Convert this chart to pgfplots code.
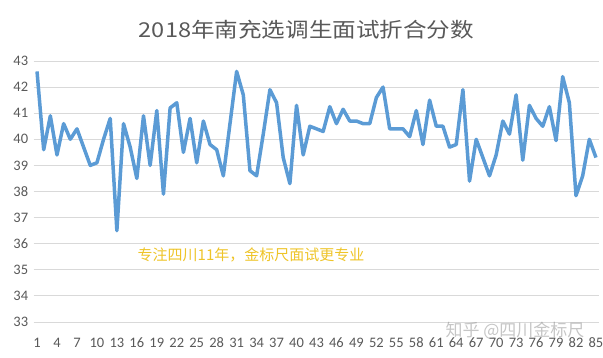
\documentclass[border=0pt]{standalone}
\usepackage{pgfplots}
\pgfplotsset{compat=1.18}
\usepackage{graphicx}
\usepackage{fontspec}
\setmainfont{Carlito}
\newfontfamily\cjk{Noto Sans CJK SC}
\definecolor{linec}{RGB}{91,155,213}
\definecolor{gridc}{RGB}{217,217,217}
\definecolor{txtc}{RGB}{89,89,89}
\definecolor{gold}{RGB}{238,196,40}
\begin{document}
\begin{tikzpicture}[x=1pt,y=1pt]
\begin{axis}[
  at={(33.7pt,36pt)}, anchor=south west,
  scale only axis, width=565.6pt, height=261pt,
  xmin=0.5, xmax=85.5, ymin=33, ymax=43,
  xtick={1,4,...,85}, ytick={33,34,...,43},
  axis line style={draw=none},
  major tick length=0pt,
  ymajorgrids, grid style={gridc, line width=0.8pt},
  tick label style={font=\fontsize{14.5}{16}\selectfont, text=txtc},
  /pgf/number format/assume math mode=true,
  xticklabel style={anchor=center, yshift=-20.7pt},
  yticklabel style={anchor=east, xshift=-2pt},
]
\addplot[linec, line width=3.5pt, line join=round, mark=none] coordinates {
(1,42.6)(2,39.6)(3,40.9)(4,39.4)(5,40.6)(6,40.0)(7,40.4)(8,39.7)(9,39.0)(10,39.1)
(11,40.0)(12,40.8)(13,36.5)(14,40.6)(15,39.7)(16,38.5)(17,40.9)(18,39.0)(19,41.1)(20,37.9)
(21,41.2)(22,41.4)(23,39.5)(24,40.8)(25,39.1)(26,40.7)(27,39.8)(28,39.6)(29,38.6)(30,40.6)
(31,42.6)(32,41.7)(33,38.8)(34,38.6)(35,40.2)(36,41.9)(37,41.4)(38,39.3)(39,38.3)(40,41.3)
(41,39.4)(42,40.5)(43,40.4)(44,40.3)(45,41.25)(46,40.6)(47,41.15)(48,40.7)(49,40.7)(50,40.6)
(51,40.6)(52,41.6)(53,42.0)(54,40.4)(55,40.4)(56,40.4)(57,40.1)(58,41.1)(59,39.8)(60,41.5)
(61,40.5)(62,40.5)(63,39.7)(64,39.8)(65,41.9)(66,38.4)(67,40.0)(68,39.3)(69,38.6)(70,39.4)
(71,40.7)(72,40.2)(73,41.7)(74,39.2)(75,41.3)(76,40.8)(77,40.5)(78,41.25)(79,39.95)(80,42.4)
(81,41.4)(82,37.84)(83,38.6)(84,40.0)(85,39.3)
};
\end{axis}
\node[text=txtc, inner sep=0pt] at (306.5pt,328pt) {\scalebox{1.15}[1]{\cjk\fontsize{20.5}{24}\selectfont 2018年南充选调生面试折合分数}};
\node[font=\cjk\fontsize{15}{18}\selectfont, text=gold, inner sep=0pt] at (251pt,103pt) {专注四川11年，金标尺面试更专业};
\node[font=\cjk\fontsize{17}{19}\selectfont, text=gray, opacity=0.45, inner sep=0pt] at (515pt,27pt) {知乎 @四川金标尺};
\pgfresetboundingbox
\path (0,0) rectangle (603pt,358pt);
\end{tikzpicture}
\end{document}
